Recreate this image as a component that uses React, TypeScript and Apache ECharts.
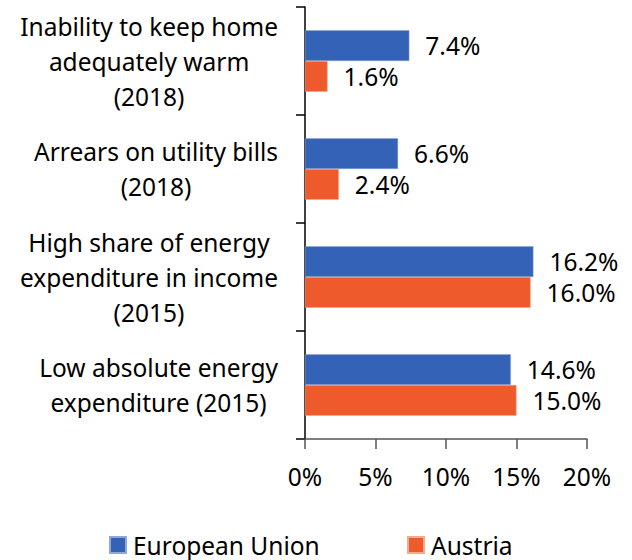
import React, { useEffect, useRef } from "react";
import * as echarts from "echarts";

const categories = [
  "Inability to keep home\nadequately warm\n(2018)",
  "Arrears on utility bills\n(2018)",
  "High share of energy\nexpenditure in income\n(2015)",
  "Low absolute energy\nexpenditure (2015)",
];
const euValues = [7.4, 6.6, 16.2, 14.6];
const austriaValues = [1.6, 2.4, 16.0, 15.0];
const seriesNames = ["European Union", "Austria"];
const xTicks = [0, 5, 10, 15, 20];

const FONT = "'Noto Sans', 'Open Sans', sans-serif";
const FS = 24.5;
const BLUE = "#3462B6";
const ORANGE = "#EF5A2C";

export default function App() {
  const ref = useRef<HTMLDivElement>(null);
  useEffect(() => {
    if (!ref.current) return;
    const chart = echarts.init(ref.current, undefined, { renderer: "svg" });
    const labelStyle = {
      show: true,
      position: "right" as const,
      distance: 16,
      fontSize: FS,
      fontFamily: FONT,
      color: "#000",
      formatter: (p: any) => `${Number(p.value).toFixed(1)}%`,
    };
    const legendBase = {
      top: 532,
      padding: 0,
      icon: "rect",
      itemWidth: 16,
      itemHeight: 16,
      textStyle: { fontSize: FS, lineHeight: 26, fontFamily: FONT, color: "#000", padding: [0, 0, 0, 2] },
    };
    chart.setOption({
      animation: false,
      textStyle: { fontFamily: FONT },
      grid: { left: 305, right: 45, top: 7, bottom: 121, containLabel: false },
      legend: [
        { ...legendBase, data: [seriesNames[0]], left: 109 },
        { ...legendBase, data: [seriesNames[1]], left: 407 },
      ],
      xAxis: {
        type: "value",
        min: xTicks[0],
        max: xTicks[xTicks.length - 1],
        interval: 5,
        splitLine: { show: false },
        axisLine: { show: true, lineStyle: { color: "#555", width: 1.5 } },
        axisTick: { show: true, length: 10, lineStyle: { color: "#555", width: 1.5 } },
        axisLabel: {
          margin: 25,
          fontSize: FS,
          fontFamily: FONT,
          color: "#000",
          formatter: (v: number) => `${v}%`,
        },
      },
      yAxis: {
        type: "category",
        data: categories,
        inverse: true,
        axisLine: { show: true, lineStyle: { color: "#000", width: 1.5 } },
        axisTick: { show: true, length: 9, lineStyle: { color: "#000", width: 1.5 } },
        axisLabel: {
          margin: 27,
          fontSize: FS,
          fontFamily: FONT,
          color: "#000",
          lineHeight: 35,
          formatter: (v: string) =>
            v
              .split("\n")
              .map((l) => `{c|${l}}`)
              .join("\n"),
          rich: {
            c: {
              align: "center",
              fontSize: FS,
              fontFamily: FONT,
              color: "#000",
              lineHeight: 35,
            },
          },
        },
      },
      series: [
        {
          name: seriesNames[0],
          type: "bar",
          data: euValues,
          barGap: "0%",
          barCategoryGap: "43%",
          itemStyle: { color: BLUE, borderColor: "#8fa8dc", borderWidth: 0.5 },
          label: labelStyle,
        },
        {
          name: seriesNames[1],
          type: "bar",
          data: austriaValues,
          barGap: "0%",
          barCategoryGap: "43%",
          itemStyle: { color: ORANGE, borderColor: "#f6a98f", borderWidth: 0.5 },
          label: labelStyle,
        },
      ],
    });
    return () => chart.dispose();
  }, []);
  return (
    <div
      ref={ref}
      style={{ position: "fixed", left: 0, top: 0, width: 632, height: 560, background: "#fff" }}
    />
  );
}
